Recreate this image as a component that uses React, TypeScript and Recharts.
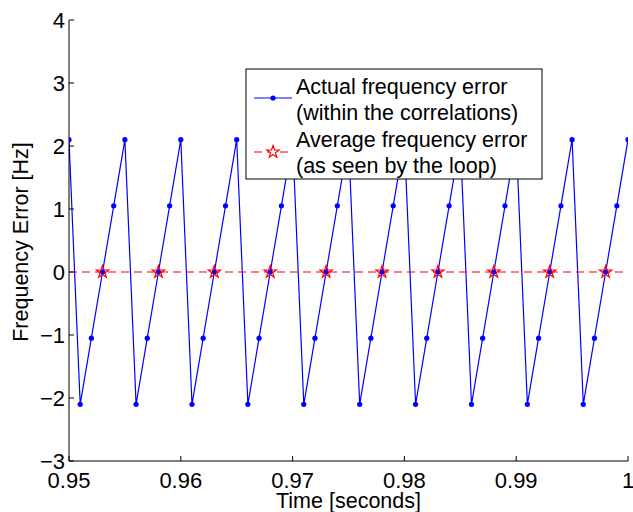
import React from "react"
import {
  ComposedChart,
  Line,
  XAxis,
  YAxis,
  ReferenceLine,
} from "recharts"

const times = [
  0.95, 0.951, 0.952, 0.953, 0.954, 0.955, 0.956, 0.957, 0.958, 0.959,
  0.96, 0.961, 0.962, 0.963, 0.964, 0.965, 0.966, 0.967, 0.968, 0.969,
  0.97, 0.971, 0.972, 0.973, 0.974, 0.975, 0.976, 0.977, 0.978, 0.979,
  0.98, 0.981, 0.982, 0.983, 0.984, 0.985, 0.986, 0.987, 0.988, 0.989,
  0.99, 0.991, 0.992, 0.993, 0.994, 0.995, 0.996, 0.997, 0.998, 0.999,
  1.0,
]

const actualError = [
  2.1, -2.1, -1.05, 0, 1.05, 2.1, -2.1, -1.05, 0, 1.05,
  2.1, -2.1, -1.05, 0, 1.05, 2.1, -2.1, -1.05, 0, 1.05,
  2.1, -2.1, -1.05, 0, 1.05, 2.1, -2.1, -1.05, 0, 1.05,
  2.1, -2.1, -1.05, 0, 1.05, 2.1, -2.1, -1.05, 0, 1.05,
  2.1, -2.1, -1.05, 0, 1.05, 2.1, -2.1, -1.05, 0, 1.05,
  2.1,
]

const avgTimes = [0.953, 0.958, 0.963, 0.968, 0.973, 0.978, 0.983, 0.988, 0.993, 0.998]
const avgError = [0, 0, 0, 0, 0, 0, 0, 0, 0, 0]

const xTicks = [0.95, 0.96, 0.97, 0.98, 0.99, 1]
const yTicks = [-3, -2, -1, 0, 1, 2, 3, 4]

const FONT = "'Liberation Sans', Arial, Helvetica, sans-serif"

const actualData = times.map((t, i) => ({ t, v: actualError[i] }))
const avgData = avgTimes.map((t, i) => ({ t, v: avgError[i] }))

function starPath(cx: number, cy: number, R = 6.5, r = 2.6) {
  let d = ""
  for (let k = 0; k < 10; k++) {
    const rad = k % 2 === 0 ? R : r
    const a = -Math.PI / 2 + (k * Math.PI) / 5
    d += (k === 0 ? "M" : "L") + (cx + rad * Math.cos(a)).toFixed(2) + "," + (cy + rad * Math.sin(a)).toFixed(2)
  }
  return d + "Z"
}

const fmtX = (v: number) => (v === 1 ? "1" : v.toFixed(2))
const fmtY = (v: number) => (v < 0 ? "\u2212" + Math.abs(v) : String(v))

const BottomTick = (props: any) => {
  const { x, y, payload } = props
  return (
    <g>
      <line x1={x} y1={y} x2={x} y2={y - 5} stroke="#000" />
      <text x={x} y={y + 27} textAnchor="middle" fontSize={22} fontFamily={FONT} fill="#000">
        {fmtX(payload.value)}
      </text>
    </g>
  )
}

const TopTick = (props: any) => {
  const { x, y } = props
  return <line x1={x} y1={y} x2={x} y2={y + 5} stroke="#000" />
}

const LeftTick = (props: any) => {
  const { x, y, payload } = props
  return (
    <g>
      <line x1={x} y1={y} x2={x + 5} y2={y} stroke="#000" />
      <text x={x - 4} y={y + 8} textAnchor="end" fontSize={22} fontFamily={FONT} fill="#000">
        {fmtY(payload.value)}
      </text>
    </g>
  )
}

const RightTick = (props: any) => {
  const { x, y } = props
  return <line x1={x} y1={y} x2={x - 5} y2={y} stroke="#000" />
}

const StarDot = (props: any) => {
  const { cx, cy, index } = props
  if (cx == null || cy == null) return <g key={"s" + index} />
  return (
    <path key={"s" + index} d={starPath(cx, cy)} fill="none" stroke="#ff0000" strokeWidth={1.2} />
  )
}

export default function App() {
  return (
    <div style={{ position: "absolute", left: 0, top: 0, width: 633, height: 512, background: "#fff" }}>
      <ComposedChart
        width={633}
        height={512}
        margin={{ top: 20, right: 5, left: 29, bottom: 21 }}
      >
        <XAxis
          xAxisId={0}
          dataKey="t"
          type="number"
          domain={[0.95, 1]}
          ticks={xTicks}
          interval={0}
          allowDataOverflow
          height={30}
          tickSize={0}
          tickMargin={0}
          tickLine={false}
          axisLine={{ stroke: "#000" }}
          tick={BottomTick}
        />
        <XAxis
          xAxisId="top"
          orientation="top"
          type="number"
          domain={[0.95, 1]}
          ticks={xTicks}
          interval={0}
          allowDataOverflow
          height={0}
          tickSize={0}
          tickMargin={0}
          tickLine={false}
          axisLine={{ stroke: "#000" }}
          tick={TopTick}
        />
        <YAxis
          yAxisId={0}
          dataKey="v"
          type="number"
          domain={[-3, 4]}
          ticks={yTicks}
          interval={0}
          allowDataOverflow
          width={40}
          tickSize={0}
          tickMargin={0}
          tickLine={false}
          axisLine={{ stroke: "#000" }}
          tick={LeftTick}
        />
        <YAxis
          yAxisId="right"
          orientation="right"
          type="number"
          domain={[-3, 4]}
          ticks={yTicks}
          interval={0}
          allowDataOverflow
          width={0}
          tickSize={0}
          tickMargin={0}
          tickLine={false}
          axisLine={{ stroke: "#000" }}
          tick={RightTick}
        />
        <Line
          data={actualData}
          dataKey="v"
          type="linear"
          stroke="#0000ff"
          strokeWidth={1.2}
          dot={{ r: 2.6, fill: "#0000ff", stroke: "#0000ff", strokeWidth: 0 }}
          activeDot={false}
          isAnimationActive={false}
        />
        <ReferenceLine y={0} stroke="#ff0000" strokeWidth={1.2} strokeDasharray="8 5" />
        <Line
          data={avgData}
          dataKey="v"
          type="linear"
          stroke="none"
          dot={StarDot}
          activeDot={false}
          isAnimationActive={false}
        />
      </ComposedChart>
      <svg
        width={633}
        height={512}
        style={{ position: "absolute", left: 0, top: 0, pointerEvents: "none" }}
        fontFamily={FONT}
      >
        <text transform="translate(27.5,242) rotate(-90)" textAnchor="middle" fontSize={21.5} fill="#000">
          Frequency Error [Hz]
        </text>
        <text x={348.5} y={508} textAnchor="middle" fontSize={21.5} fill="#000">
          Time [seconds]
        </text>
        <rect x={246} y={69} width={296} height={110} fill="#fff" stroke="#000" strokeWidth={1} />
        <line x1={254} y1={98} x2={292} y2={98} stroke="#0000ff" strokeWidth={1.2} />
        <circle cx={273} cy={98} r={2.6} fill="#0000ff" />
        <text x={296} y={93.5} fontSize={21.5} fill="#000">Actual frequency error</text>
        <text x={296} y={120} fontSize={21.5} fill="#000">(within the correlations)</text>
        <line x1={254} y1={152} x2={292} y2={152} stroke="#ff0000" strokeWidth={1.2} strokeDasharray="8 5" />
        <path d={starPath(273, 152)} fill="#fff" stroke="#ff0000" strokeWidth={1.2} />
        <text x={296} y={146.7} fontSize={21.5} fill="#000">Average frequency error</text>
        <text x={296} y={173.3} fontSize={21.5} fill="#000">(as seen by the loop)</text>
      </svg>
    </div>
  )
}
